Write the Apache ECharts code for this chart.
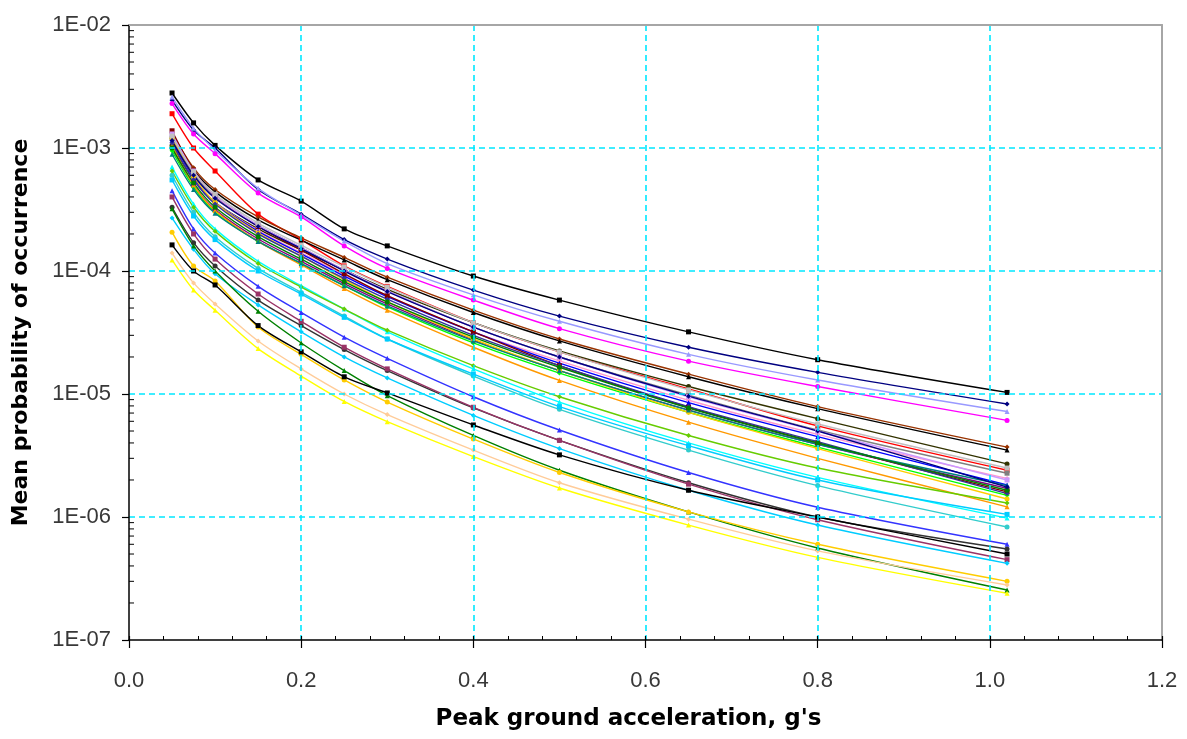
<!DOCTYPE html>
<html>
<head>
<meta charset="utf-8">
<title>Mean probability of occurrence vs peak ground acceleration</title>
<script src="https://cdn.jsdelivr.net/npm/echarts@6/dist/echarts.min.js"></script>
<style>
  html, body { margin: 0; padding: 0; background: #ffffff; }
  #chart { width: 1187px; height: 739px; }
</style>
</head>
<body>
<div id="chart"></div>
<script>
// Peak ground acceleration (g) at which each hazard curve is evaluated
const pga = [0.05, 0.075, 0.1, 0.15, 0.2, 0.25, 0.3, 0.4, 0.5, 0.65, 0.8, 1.02];

// Mean annual probability of exceedance for each site curve
const c01 = [2.8e-3, 1.6e-3, 1.05e-3, 5.5e-4, 3.7e-4, 2.2e-4, 1.6e-4, 9.1e-5, 5.8e-5, 3.2e-5, 1.9e-5, 1.03e-5];
const c02 = [2.45e-3, 1.4e-3, 1.0e-3, 4.6e-4, 2.9e-4, 1.8e-4, 1.25e-4, 7.0e-5, 4.3e-5, 2.4e-5, 1.5e-5, 8.3e-6];
const c03 = [2.6e-3, 1.45e-3, 9.6e-4, 4.7e-4, 2.85e-4, 1.75e-4, 1.15e-4, 6.4e-5, 3.9e-5, 2.1e-5, 1.3e-5, 7.2e-6];
const c04 = [2.3e-3, 1.3e-3, 9.0e-4, 4.3e-4, 2.75e-4, 1.6e-4, 1.05e-4, 5.8e-5, 3.4e-5, 1.85e-5, 1.15e-5, 6.1e-6];
const c05 = [1.9e-3, 1.0e-3, 6.5e-4, 2.9e-4, 1.8e-4, 1.1e-4, 7.5e-5, 3.8e-5, 2.2e-5, 1.1e-5, 5.5e-6, 2.4e-6];
const c06 = [1.32e-3, 6.9e-4, 4.6e-4, 2.75e-4, 1.86e-4, 1.29e-4, 8.9e-5, 4.8e-5, 2.8e-5, 1.45e-5, 7.9e-6, 3.7e-6];
const c07 = [1.25e-3, 6.6e-4, 4.4e-4, 2.6e-4, 1.78e-4, 1.23e-4, 8.5e-5, 4.6e-5, 2.7e-5, 1.38e-5, 7.6e-6, 3.5e-6];
const c08 = [1.05e-3, 5.5e-4, 3.6e-4, 2.2e-4, 1.48e-4, 1.02e-4, 7.1e-5, 3.8e-5, 2.24e-5, 1.15e-5, 6.3e-6, 2.7e-6];
const c09 = [1.2e-3, 6.2e-4, 4.0e-4, 2.35e-4, 1.55e-4, 1.02e-4, 6.9e-5, 3.5e-5, 2.0e-5, 9.8e-6, 5.1e-6, 2.27e-6];
const c10 = [1.1e-3, 5.6e-4, 3.6e-4, 2.14e-4, 1.41e-4, 9.3e-5, 6.3e-5, 3.2e-5, 1.86e-5, 8.9e-6, 4.7e-6, 2.06e-6];
const c11 = [1.15e-3, 5.75e-4, 3.6e-4, 2.1e-4, 1.38e-4, 9.1e-5, 6.2e-5, 3.2e-5, 1.78e-5, 8.5e-6, 4.5e-6, 1.82e-6];
const c12 = [1.0e-3, 5.0e-4, 3.16e-4, 1.82e-4, 1.2e-4, 7.9e-5, 5.4e-5, 2.75e-5, 1.55e-5, 7.4e-6, 3.9e-6, 1.71e-6];
const c13 = [1.38e-3, 6.6e-4, 4.1e-4, 2.3e-4, 1.48e-4, 9.5e-5, 6.3e-5, 3.2e-5, 1.7e-5, 7.8e-6, 4.0e-6, 1.6e-6];
const c14 = [9.5e-4, 4.8e-4, 3.0e-4, 1.74e-4, 1.15e-4, 7.6e-5, 5.1e-5, 2.6e-5, 1.48e-5, 7.1e-6, 3.7e-6, 1.5e-6];
const c15 = [1.05e-3, 5.0e-4, 3.1e-4, 1.74e-4, 1.12e-4, 7.2e-5, 4.8e-5, 2.4e-5, 1.29e-5, 5.9e-6, 3.0e-6, 1.21e-6];
const c16 = [1.2e-3, 5.9e-4, 3.6e-4, 2.04e-4, 1.32e-4, 8.5e-5, 5.6e-5, 2.8e-5, 1.55e-5, 7.1e-6, 3.6e-6, 1.4e-6];
const c17 = [1.3e-3, 6.5e-4, 4.1e-4, 2.35e-4, 1.55e-4, 1.02e-4, 6.9e-5, 3.5e-5, 2.0e-5, 9.5e-6, 5.0e-6, 2.0e-6];
const c18 = [1.1e-3, 5.5e-4, 3.5e-4, 2.0e-4, 1.32e-4, 8.7e-5, 5.9e-5, 3.0e-5, 1.7e-5, 7.9e-6, 4.1e-6, 1.55e-6];
const c19 = [8.9e-4, 4.6e-4, 2.95e-4, 1.74e-4, 1.15e-4, 7.6e-5, 5.2e-5, 2.7e-5, 1.55e-5, 7.4e-6, 3.9e-6, 1.8e-6];
const c20 = [1.0e-3, 5.2e-4, 3.3e-4, 1.9e-4, 1.25e-4, 8.2e-5, 5.6e-5, 2.9e-5, 1.65e-5, 7.7e-6, 4.0e-6, 1.65e-6];
const c21 = [1.25e-3, 6.4e-4, 4.2e-4, 2.45e-4, 1.62e-4, 1.08e-4, 7.4e-5, 3.8e-5, 2.2e-5, 1.08e-5, 5.7e-6, 2.5e-6];
const c22 = [1.15e-3, 6.0e-4, 3.9e-4, 2.3e-4, 1.52e-4, 1.0e-4, 6.8e-5, 3.5e-5, 2.0e-5, 9.6e-6, 5.0e-6, 1.75e-6];
const c23 = [7.0e-4, 3.5e-4, 2.2e-4, 1.2e-4, 7.6e-5, 4.9e-5, 3.2e-5, 1.6e-5, 8.6e-6, 4.0e-6, 2.1e-6, 9.8e-7];
const c24 = [6.0e-4, 3.0e-4, 1.9e-4, 1.05e-4, 6.7e-5, 4.3e-5, 2.8e-5, 1.4e-5, 7.5e-6, 3.5e-6, 1.8e-6, 8.3e-7];
const c25 = [5.5e-4, 2.8e-4, 1.8e-4, 1.0e-4, 6.5e-5, 4.2e-5, 2.8e-5, 1.45e-5, 7.9e-6, 3.8e-6, 2.0e-6, 1.05e-6];
const c26 = [6.5e-4, 3.3e-4, 2.1e-4, 1.15e-4, 7.4e-5, 4.9e-5, 3.3e-5, 1.7e-5, 9.5e-6, 4.6e-6, 2.5e-6, 1.3e-6];
const c27 = [4.5e-4, 2.2e-4, 1.4e-4, 7.5e-5, 4.6e-5, 2.9e-5, 1.95e-5, 9.5e-6, 5.1e-6, 2.3e-6, 1.2e-6, 6.0e-7];
const c28 = [3.3e-4, 1.7e-4, 1.1e-4, 5.8e-5, 3.6e-5, 2.3e-5, 1.55e-5, 7.7e-6, 4.2e-6, 1.9e-6, 1.0e-6, 5.5e-7];
const c29 = [4.0e-4, 2.0e-4, 1.25e-4, 6.5e-5, 3.9e-5, 2.4e-5, 1.6e-5, 7.8e-6, 4.2e-6, 1.85e-6, 9.5e-7, 4.5e-7];
const c30 = [2.7e-4, 1.5e-4, 9.5e-5, 5.3e-5, 3.2e-5, 2.0e-5, 1.35e-5, 6.7e-6, 3.6e-6, 1.65e-6, 8.6e-7, 4.2e-7];
const c31 = [3.2e-4, 1.6e-4, 1.0e-4, 4.7e-5, 2.6e-5, 1.55e-5, 9.7e-6, 4.6e-6, 2.4e-6, 1.1e-6, 5.6e-7, 2.55e-7];
const c32 = [2.07e-4, 1.1e-4, 8.3e-5, 3.5e-5, 2.1e-5, 1.3e-5, 8.6e-6, 4.3e-6, 2.3e-6, 1.1e-6, 6.0e-7, 3.0e-7];
const c33 = [1.63e-4, 1.0e-4, 7.7e-5, 3.6e-5, 2.2e-5, 1.38e-5, 1.02e-5, 5.6e-6, 3.2e-6, 1.65e-6, 1.0e-6, 5.0e-7];
const c34 = [1.4e-4, 8.0e-5, 5.4e-5, 2.7e-5, 1.6e-5, 1.0e-5, 6.8e-6, 3.5e-6, 1.9e-6, 9.6e-7, 5.3e-7, 2.8e-7];
const c35 = [1.23e-4, 7.0e-5, 4.8e-5, 2.34e-5, 1.4e-5, 8.7e-6, 5.96e-6, 3.1e-6, 1.72e-6, 8.6e-7, 4.7e-7, 2.4e-7];

const curves = [c01, c02, c03, c04, c05, c06, c07, c08, c09, c10, c11, c12, c13, c14, c15, c16, c17, c18,
                c19, c20, c21, c22, c23, c24, c25, c26, c27, c28, c29, c30, c31, c32, c33, c34, c35];

// Line colours, in the same order as the curves
const curveColors = ['#000000', '#000080', '#9999ff', '#ff00ff', '#ff0000', '#993300', '#000000', '#333300',
                     '#808080', '#ff99cc', '#0000ff', '#800080', '#800000', '#00ff00', '#ff9900', '#ffcc00',
                     '#cc99ff', '#333399', '#008080', '#008000', '#c0c0c0', '#000080', '#00ffff', '#33cccc',
                     '#00ccff', '#66cc00', '#3333ff', '#333333', '#993366', '#00ccff', '#008000', '#ffcc00',
                     '#000000', '#ffcc99', '#ffff00'];

// Axis tick labels
const xTickLabels = ['0.0', '0.2', '0.4', '0.6', '0.8', '1.0', '1.2'];
const yTickLabels = ['1E-07', '1E-06', '1E-05', '1E-04', '1E-03', '1E-02'];

// Minor tick positions on the logarithmic axis (2..9 within each decade)
const yMinorTicks = [
  2e-7, 3e-7, 4e-7, 5e-7, 6e-7, 7e-7, 8e-7, 9e-7,
  2e-6, 3e-6, 4e-6, 5e-6, 6e-6, 7e-6, 8e-6, 9e-6,
  2e-5, 3e-5, 4e-5, 5e-5, 6e-5, 7e-5, 8e-5, 9e-5,
  2e-4, 3e-4, 4e-4, 5e-4, 6e-4, 7e-4, 8e-4, 9e-4,
  2e-3, 3e-3, 4e-3, 5e-3, 6e-3, 7e-3, 8e-3, 9e-3
];

const markerShapes = ['rect', 'diamond', 'triangle', 'circle'];

const chart = echarts.init(document.getElementById('chart'), null, { renderer: 'canvas' });

const lineSeries = curves.map((vals, i) => ({
  type: 'line',
  data: pga.map((x, k) => [x, vals[k]]),
  smooth: 0.3,
  symbol: markerShapes[i % markerShapes.length],
  symbolSize: 5,
  showSymbol: true,
  lineStyle: { width: 1.4, color: curveColors[i] },
  itemStyle: { color: curveColors[i] },
  emphasis: { disabled: true },
  animation: false,
  z: 3
}));

const minorTickSeries = {
  type: 'custom',
  silent: true,
  animation: false,
  z: 6,
  clip: false,
  data: yMinorTicks.map(v => [0, v]),
  renderItem: function (params, api) {
    const p = api.coord([0, api.value(1)]);
    return {
      type: 'line',
      shape: { x1: p[0], y1: p[1], x2: p[0] + 5, y2: p[1] },
      style: { stroke: '#000000', lineWidth: 1 }
    };
  }
};

const tickFont = { fontFamily: 'Liberation Sans', fontSize: 22, color: '#383838' };
const gridDash = { color: '#00e8ff', type: [6, 4], width: 1.6 };

chart.setOption({
  backgroundColor: '#ffffff',
  animation: false,
  grid: { left: 129, right: 25, top: 25, bottom: 99, show: false },
  xAxis: [
    {
      type: 'value',
      min: 0, max: 1.2, interval: 0.2,
      name: "Peak ground acceleration, g's",
      nameLocation: 'middle',
      nameGap: 68,
      nameTextStyle: { fontFamily: 'DejaVu Sans', fontWeight: 'bold', fontSize: 23, color: '#000000', padding: [0, 34, 0, 0] },
      axisLine: { show: true, onZero: false, lineStyle: { color: '#000000', width: 1.5 } },
      axisTick: { show: true, inside: false, length: 8, lineStyle: { color: '#000000', width: 1.2 } },
      axisLabel: {
        margin: 30,
        ...tickFont,
        formatter: v => xTickLabels[Math.round(v / 0.2)]
      },
      splitLine: { show: true, showMinLine: false, showMaxLine: false, lineStyle: gridDash },
      z: 4
    },
    {
      // companion axis carrying the inward tick marks
      type: 'value',
      position: 'bottom',
      min: 0, max: 1.2, interval: 0.2,
      axisLine: { show: false },
      axisTick: { show: true, inside: true, length: 4, lineStyle: { color: '#000000', width: 1.2 } },
      axisLabel: { show: false },
      splitLine: { show: false },
      minorTick: { show: true, splitNumber: 5, length: 4, lineStyle: { color: '#000000', width: 1 } },
      z: 4
    },
    {
      // top frame edge
      type: 'value',
      position: 'top',
      min: 0, max: 1.2, interval: 0.2,
      axisLine: { show: true, onZero: false, lineStyle: { color: '#a6a6a6', width: 2 } },
      axisTick: { show: false },
      axisLabel: { show: false },
      splitLine: { show: false },
      z: 4
    }
  ],
  yAxis: [
    {
      type: 'log',
      logBase: 10,
      min: 1e-7, max: 1e-2,
      interval: 1,
      name: 'Mean probability of occurrence',
      nameLocation: 'middle',
      nameGap: 97,
      nameTextStyle: { fontFamily: 'DejaVu Sans', fontWeight: 'bold', fontSize: 22, color: '#000000' },
      axisLine: { show: true, onZero: false, lineStyle: { color: '#000000', width: 1.5 } },
      axisTick: { show: true, inside: false, length: 7, lineStyle: { color: '#000000', width: 1.2 } },
      axisLabel: {
        margin: 18,
        ...tickFont,
        formatter: v => yTickLabels[Math.round(Math.log10(v)) + 7]
      },
      splitLine: { show: true, showMinLine: false, showMaxLine: false, lineStyle: gridDash },
      z: 4
    },
    {
      // right frame edge
      type: 'log',
      logBase: 10,
      position: 'right',
      min: 1e-7, max: 1e-2,
      interval: 1,
      axisLine: { show: true, onZero: false, lineStyle: { color: '#a6a6a6', width: 2 } },
      axisTick: { show: false },
      axisLabel: { show: false },
      splitLine: { show: false },
      z: 4
    }
  ],
  series: lineSeries.concat([minorTickSeries])
});
</script>
</body>
</html>
